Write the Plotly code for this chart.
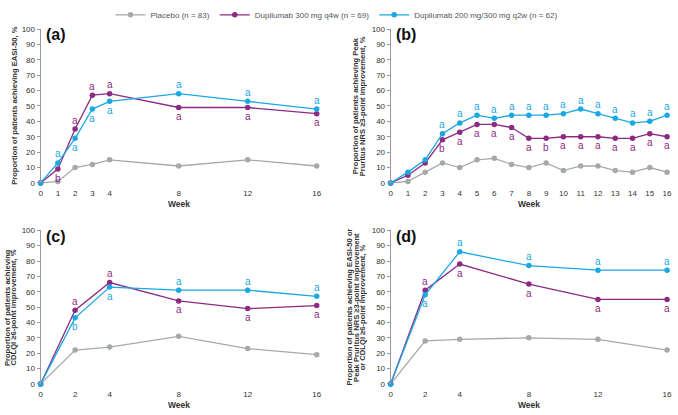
import plotly.graph_objects as go

W, H = 678, 415

# ---------------- data ----------------
weeks_a = [0, 1, 2, 3, 4, 8, 12, 16]
placebo_a = [0, 1, 10, 12, 15, 11, 15, 11]
q4w_a = [0, 9, 35, 57, 58, 49, 49, 45]
q2w_a = [0, 13, 29, 48, 53, 58, 53, 48]
q4w_a_sig = ["", "b", "a", "a", "a", "a", "a", "a"]
q4w_a_pos = ["", "below", "above", "above", "above", "below", "below", "below"]
q2w_a_sig = ["", "a", "a", "a", "a", "a", "a", "a"]
q2w_a_pos = ["", "above", "below", "below", "below", "above", "above", "above"]

weeks_b = list(range(17))
placebo_b = [0, 1, 7, 13, 10, 15, 16, 12, 10, 13, 8, 11, 11, 8, 7, 10, 7]
q4w_b = [0, 5, 13, 28, 33, 38, 38, 36, 29, 29, 30, 30, 30, 29, 29, 32, 30]
q2w_b = [0, 7, 15, 32, 39, 44, 42, 44, 44, 44, 45, 48, 45, 42, 39, 40, 44]
q4w_b_sig = ["", "", "", "b", "a", "a", "a", "a", "a", "b", "a", "a", "a", "a", "a", "a", "a"]
q4w_b_pos = ["below"] * 17
q2w_b_sig = ["", "", "", "a", "a", "a", "a", "a", "a", "a", "a", "a", "a", "a", "a", "a", "a"]
q2w_b_pos = ["above"] * 17

weeks_c = [0, 2, 4, 8, 12, 16]
placebo_c = [0, 22, 24, 31, 23, 19]
q4w_c = [0, 48, 66, 54, 49, 51]
q2w_c = [0, 43, 63, 61, 61, 57]
q4w_c_sig = ["", "a", "a", "a", "a", "a"]
q4w_c_pos = ["", "above", "above", "below", "below", "below"]
q2w_c_sig = ["", "b", "a", "a", "a", "a"]
q2w_c_pos = ["", "below", "below", "above", "above", "above"]

weeks_d = [0, 2, 4, 8, 12, 16]
placebo_d = [0, 28, 29, 30, 29, 22]
q4w_d = [0, 61, 78, 65, 55, 55]
q2w_d = [0, 58, 86, 77, 74, 74]
q4w_d_sig = ["", "a", "a", "a", "a", "a"]
q4w_d_pos = ["", "above", "below", "below", "below", "below"]
q2w_d_sig = ["", "a", "a", "a", "a", "a"]
q2w_d_pos = ["", "below", "above", "above", "above", "above"]

series_names = ["Placebo (n = 83)", "Dupilumab 300 mg q4w (n = 69)",
                "Dupilumab 200 mg/300 mg q2w (n = 62)"]
panel_labels = ["(a)", "(b)", "(c)", "(d)"]
y_titles = [
    ["Proportion of patients achieving EASI-50, %"],
    ["Proportion of patients achieving Peak", "Pruritus NRS \u22653-point improvement, %"],
    ["Proportion of patients achieving", "CDLQI \u22656-point improvement, %"],
    ["Proportion of patients achieving EASI-50 or",
     "Peak Pruritus NRS \u22653-point improvement",
     "or CDLQI \u22656-point improvement, %"],
]
x_title = "Week"
y_ticks = list(range(0, 101, 10))

# ---------------- styling ----------------
GRAY = "#a6a9ab"
PURPLE = "#8d2a82"
CYAN = "#1aa8e2"
colors = [GRAY, PURPLE, CYAN]
FONT = "Liberation Sans, Arial, sans-serif"
NARROW = "Liberation Sans Narrow, Arial Narrow, Liberation Sans, sans-serif"
TXT = "#333333"

# panel pixel boxes: (x0, x1, ytop, ybottom)
boxes = [(39, 318, 20.7, 180), (392.7, 672, 20.7, 180),
         (39, 318, 229, 388), (392.7, 672, 229, 388)]

panels = [
    (weeks_a, [placebo_a, q4w_a, q2w_a], [(q4w_a_sig, q4w_a_pos), (q2w_a_sig, q2w_a_pos)]),
    (weeks_b, [placebo_b, q4w_b, q2w_b], [(q4w_b_sig, q4w_b_pos), (q2w_b_sig, q2w_b_pos)]),
    (weeks_c, [placebo_c, q4w_c, q2w_c], [(q4w_c_sig, q4w_c_pos), (q2w_c_sig, q2w_c_pos)]),
    (weeks_d, [placebo_d, q4w_d, q2w_d], [(q4w_d_sig, q4w_d_pos), (q2w_d_sig, q2w_d_pos)]),
]

fig = go.Figure()
annotations = []
layout_axes = {}

def px(x):
    return x / W

def py(y):
    return 1 - y / H

for i, (weeks, ys, sigs) in enumerate(panels):
    n = i + 1
    xa = "x" if n == 1 else f"x{n}"
    ya = "y" if n == 1 else f"y{n}"
    for s, (vals, col) in enumerate(zip(ys, colors)):
        fig.add_trace(go.Scatter(
            x=weeks, y=vals, mode="lines+markers", name=series_names[s],
            line=dict(color=col, width=1.3), marker=dict(color=col, size=5.5),
            xaxis=xa, yaxis=ya, showlegend=(i == 0), cliponaxis=False,
        ))
    for (sig, pos), col, vals in zip(sigs, [PURPLE, CYAN], ys[1:]):
        for wk, v, t, p in zip(weeks, vals, sig, pos):
            if not t:
                continue
            annotations.append(dict(
                x=wk, y=v, xref=xa, yref=ya, text=t, showarrow=False,
                font=dict(family=FONT, size=10, color=col),
                yshift=9 if p == "above" else -9,
            ))
    x0, x1, yt, yb = boxes[i]
    xkey = "xaxis" if n == 1 else f"xaxis{n}"
    ykey = "yaxis" if n == 1 else f"yaxis{n}"
    layout_axes[xkey] = dict(
        domain=[px(x0), px(x1)], range=[0, 16], anchor=ya,
        tickvals=weeks, showline=False, showgrid=False, zeroline=False,
        ticks="outside", ticklen=2, tickcolor="rgba(0,0,0,0)",
        tickfont=dict(family=FONT, size=8, color=TXT), fixedrange=True,
    )
    layout_axes[ykey] = dict(
        domain=[py(yb), py(yt)], range=[0, 100], anchor=xa,
        tickvals=y_ticks, showline=True, linecolor="#9a9a9a", linewidth=1,
        showgrid=False, zeroline=False, ticks="outside", ticklen=3,
        tickcolor="#9a9a9a", tickfont=dict(family=FONT, size=8, color=TXT),
        fixedrange=True,
    )
    # panel label
    annotations.append(dict(
        x=px(x0 + 3), y=py(yt + 6), xref="paper", yref="paper",
        text=f"<b>{panel_labels[i]}</b>", showarrow=False, xanchor="left",
        yanchor="middle", font=dict(family=FONT, size=16, color="#111111"),
    ))
    # x title
    annotations.append(dict(
        x=px((x0 + x1) / 2), y=py(yb + 22), xref="paper", yref="paper",
        text=f"<b>{x_title}</b>", showarrow=False, xanchor="center",
        yanchor="middle", font=dict(family=FONT, size=8.5, color=TXT),
    ))
    # y title lines
    lines = y_titles[i]
    centers = {0: [13], 1: [358, 365], 2: [5, 11.5], 3: [351, 357.5, 364]}[i]
    for ln, cx in zip(lines, centers):
        annotations.append(dict(
            x=px(cx), y=py((yt + yb) / 2), xref="paper", yref="paper",
            text=f"<b>{ln}</b>", showarrow=False, textangle=-90,
            xanchor="center", yanchor="middle",
            font=dict(family=NARROW, size=7.6, color=TXT),
        ))

fig.update_layout(
    width=W, height=H, margin=dict(l=0, r=0, t=0, b=0),
    paper_bgcolor="white", plot_bgcolor="white",
    annotations=annotations,
    legend=dict(orientation="h", x=px(338), y=py(6), xanchor="center",
                yanchor="middle", font=dict(family=FONT, size=8, color="#555555"),
                itemwidth=30, bgcolor="rgba(0,0,0,0)", tracegroupgap=0),
    showlegend=True,
    **layout_axes,
)

fig.write_html("out.html", config={"displayModeBar": False},
               post_script="document.body.style.margin='0px';")
